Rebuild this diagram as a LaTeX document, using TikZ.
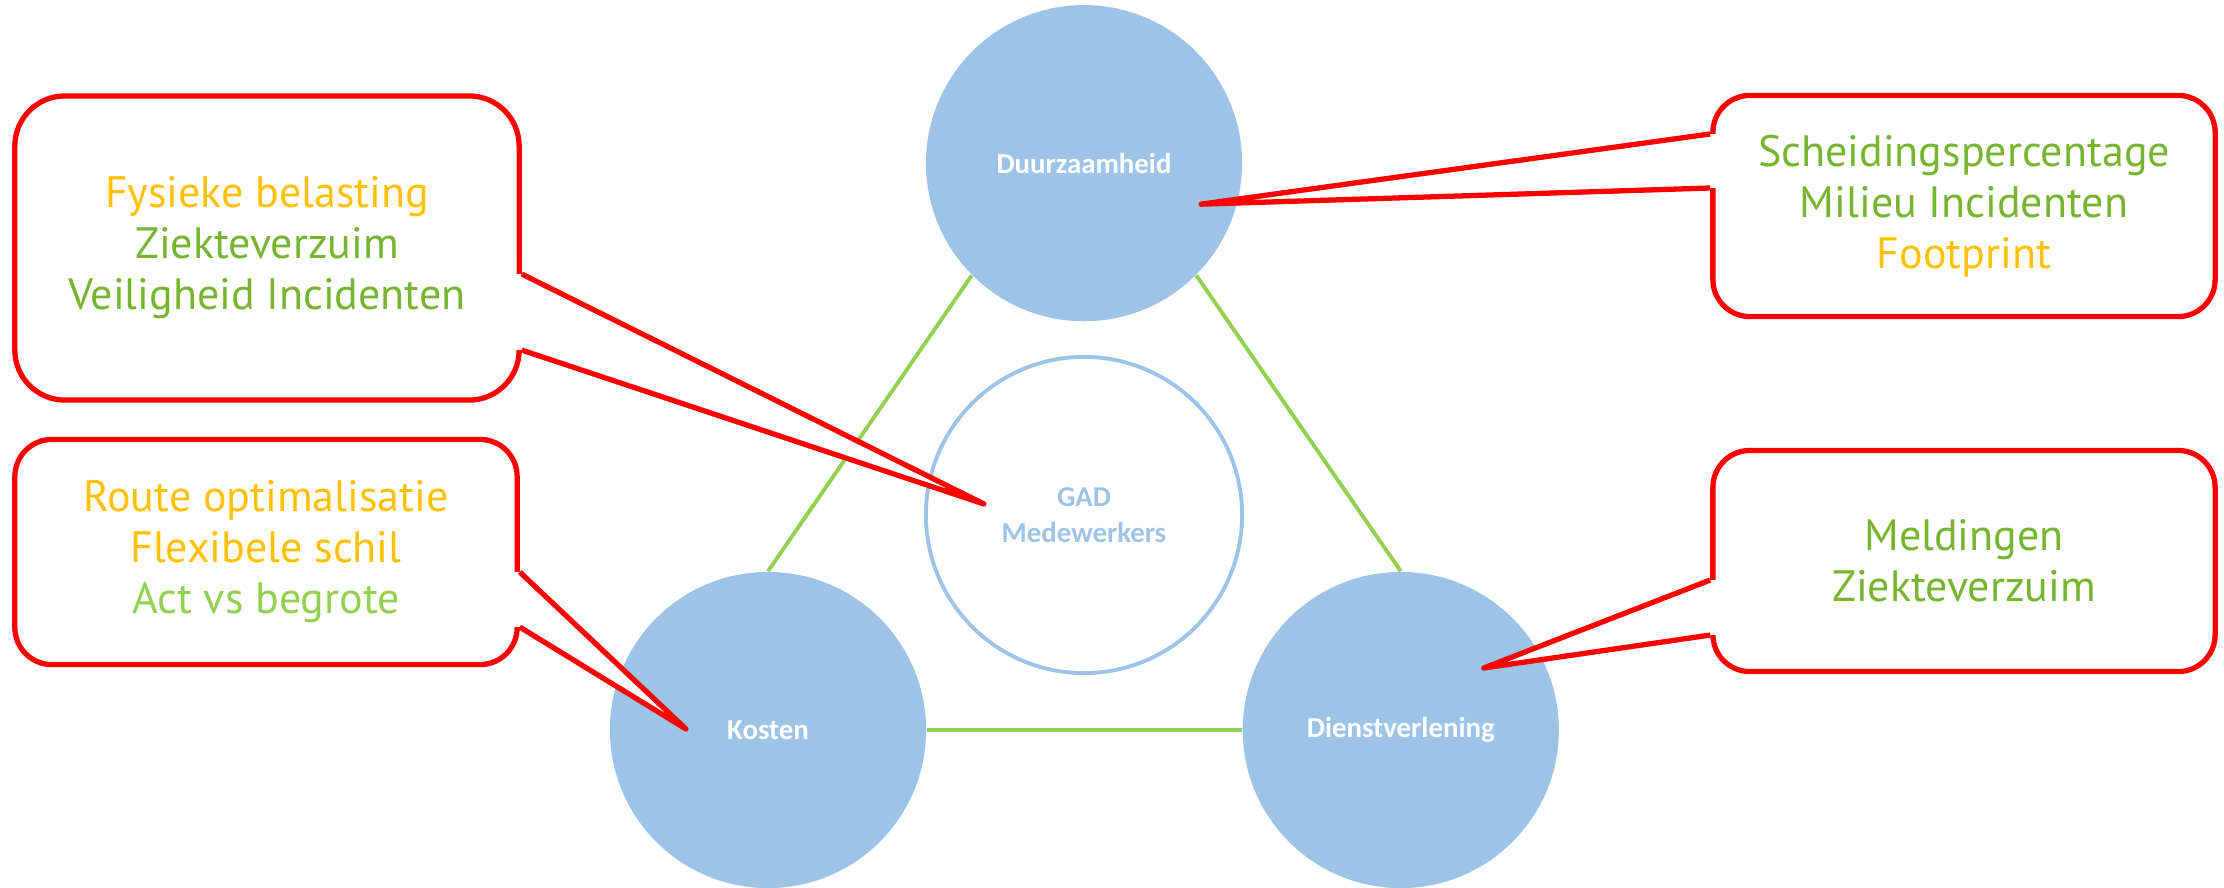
\documentclass[tikz,border=0pt]{standalone}
\usepackage{fontspec}
\setmainfont{PT Sans}
\newfontfamily\calibrifont{Carlito}
\usetikzlibrary{
    positioning,
    calc,
    backgrounds
}

\definecolor{pillarblue}{HTML}{9DC3E6}
\definecolor{linkgreen}{HTML}{92D050}
\definecolor{kpiorange}{HTML}{FFC000}
\definecolor{kpigreen}{HTML}{77B530}
\definecolor{kpilight}{HTML}{92D050}

\begin{document}
\begin{tikzpicture}[
    x=0.01cm, y=-0.01cm,
    pillar/.style={circle, minimum size=3.16cm, inner sep=0pt, fill=pillarblue,
                   text=white, font=\calibrifont\bfseries\fontsize{8.2}{10.2}\selectfont},
    core/.style={circle, minimum size=3.16cm, inner sep=0pt, draw=pillarblue, line width=1.1pt,
                 text=pillarblue, align=center, font=\calibrifont\bfseries\fontsize{8.2}{10.2}\selectfont},
    link/.style={draw=linkgreen, line width=1.1pt},
    kpibox/.style={rectangle, rounded corners=0.37cm, minimum width=5.02cm, minimum height=2.21cm,
                   draw=red, line width=1.5pt, fill=white, align=center,
                   font=\fontsize{12.5}{14.5}\selectfont},
    wedge/.style={fill=white, draw=red, line width=1.5pt, line join=round},
    gap/.style={draw=white, line width=3.2pt}
]
    \useasboundingbox (0,0) rectangle (2224,887);

    % Pillars and core
    \node (gad) [core] at (1084,515) {GAD\\Medewerkers};
    \node (duurz) [pillar, above=0.33cm of gad] {Duurzaamheid};
    \node (kosten) [pillar] at (768,730) {Kosten};
    \node (dienst) [pillar, right=3.15cm of kosten] {Dienstverlening};

    % Triangle
    \begin{scope}[on background layer]
        \draw [link] (kosten.north) -- (duurz.south west);
        \draw [link] (dienst.north) -- (duurz.south east);
        \draw [link] (kosten.east) -- (dienst.west);
    \end{scope}

    % Callout tips
    \coordinate (fysiektip) at ($(gad)+(-100,-11)$);
    \coordinate (scheidtip) at ($(duurz)+(117,41)$);
    \coordinate (routetip) at ($(kosten)+(-82,-1)$);
    \coordinate (meldtip) at ($(dienst)+(83,-62)$);

    % Callouts
    \node (fysiek) [kpibox, minimum width=5.04cm, minimum height=3.04cm, rounded corners=0.5cm]
        at (267,248) {\textcolor{kpiorange}{Fysieke belasting}\\
                      \textcolor{kpigreen}{Ziekteverzuim}\\
                      \textcolor{kpigreen}{Veiligheid Incidenten}};
    \draw [gap] ([yshift=-0.26cm]fysiek.east) -- ([yshift=-1.02cm]fysiek.east);
    \filldraw [wedge] ([yshift=-0.26cm]fysiek.east) -- (fysiektip) -- ([yshift=-1.02cm]fysiek.east);

    \node (scheid) [kpibox] at (1964,206) {\textcolor{kpigreen}{Scheidingspercentage}\\
                                          \textcolor{kpigreen}{Milieu Incidenten}\\
                                          \textcolor{kpiorange}{Footprint}};
    \draw [gap] ([yshift=0.72cm]scheid.west) -- ([yshift=0.18cm]scheid.west);
    \filldraw [wedge] ([yshift=0.72cm]scheid.west) -- (scheidtip) -- ([yshift=0.18cm]scheid.west);

    \node (route) [kpibox, minimum height=2.25cm] at (266,552) {\textcolor{kpiorange}{Route optimalisatie}\\
                                          \textcolor{kpiorange}{Flexibele schil}\\
                                          \textcolor{kpilight}{Act vs begrote}};
    \draw [gap] ([yshift=-0.2cm]route.east) -- ([yshift=-0.75cm]route.east);
    \filldraw [wedge] ([yshift=-0.2cm]route.east) -- (routetip) -- ([yshift=-0.75cm]route.east);

    \node (melding) [kpibox] at (1964,561) {\textcolor{kpigreen}{Meldingen}\\
                                           \textcolor{kpigreen}{Ziekteverzuim}};
    \draw [gap] ([yshift=-0.19cm]melding.west) -- ([yshift=-0.74cm]melding.west);
    \filldraw [wedge] ([yshift=-0.19cm]melding.west) -- (meldtip) -- ([yshift=-0.74cm]melding.west);

\end{tikzpicture}
\end{document}
